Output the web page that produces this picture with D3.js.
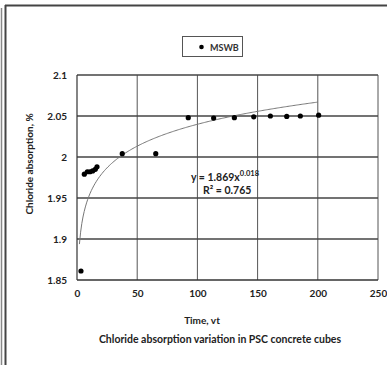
<!DOCTYPE html>
<html><head><meta charset="utf-8">
<script src="https://cdn.jsdelivr.net/npm/d3@7"></script>
<style>body{margin:0;background:#fff;}svg{display:block;}</style>
</head><body>
<script>
const timeVals = [3.3, 6.1, 8.6, 10.8, 13.0, 15.2, 16.6, 37.6, 65.4, 92.4, 113.5, 130.7, 146.8, 160.6, 174.2, 185.5, 200.7];
const absorption = [1.861, 1.979, 1.982, 1.982, 1.983, 1.985, 1.988, 2.004, 2.004, 2.048, 2.0475, 2.048, 2.049, 2.050, 2.0495, 2.050, 2.051];
const xTicks = [0, 50, 100, 150, 200, 250];
const yTicks = [1.85, 1.9, 1.95, 2, 2.05, 2.1];
const trendA = 1.869, trendB = 0.019; // power trendline y = a x^b
const trendRange = [2, 200];
const seriesName = "MSWB";
const eqText = ["y = 1.869x", "0.018"];
const r2Text = "R² = 0.765";

const W = 387, H = 365;
const font = "Lato, 'Open Sans', sans-serif";
const svg = d3.select("body").append("svg").attr("width", W).attr("height", H);

// outer frame
svg.append("line").attr("x1",1.5).attr("x2",1.5).attr("y1",8).attr("y2",H).attr("stroke","#888").attr("stroke-width",1.5);
svg.append("line").attr("x1",5.5).attr("x2",5.5).attr("y1",5).attr("y2",H).attr("stroke","#444").attr("stroke-width",2);
svg.append("line").attr("x1",5).attr("x2",W).attr("y1",5.5).attr("y2",5.5).attr("stroke","#444").attr("stroke-width",2);

const x = d3.scaleLinear().domain([0,250]).range([77,378]);
const y = d3.scaleLinear().domain([1.85,2.1]).range([280,75]);

// vertical grid
svg.append("g").selectAll("line").data(xTicks.slice(1)).join("line")
  .attr("x1",d=>x(d)).attr("x2",d=>x(d)).attr("y1",y(2.1)).attr("y2",y(1.85))
  .attr("stroke","#555").attr("stroke-width",1);
// horizontal grid
svg.append("g").selectAll("line").data(yTicks.slice(1)).join("line")
  .attr("x1",x(0)).attr("x2",x(250)).attr("y1",d=>y(d)).attr("y2",d=>y(d))
  .attr("stroke","#444").attr("stroke-width",1.6);
// axes lines
svg.append("line").attr("x1",x(0)).attr("x2",x(0)).attr("y1",y(2.1)).attr("y2",y(1.85)).attr("stroke","#333").attr("stroke-width",1.2);
svg.append("line").attr("x1",x(0)).attr("x2",x(250)).attr("y1",y(1.85)).attr("y2",y(1.85)).attr("stroke","#333").attr("stroke-width",1.6);

// tick labels
const xAxis = d3.axisBottom(x).tickValues(xTicks).tickSize(0).tickPadding(10).tickFormat(d3.format("d"));
const gx = svg.append("g").attr("transform",`translate(0,${y(1.85)})`).call(xAxis);
gx.select(".domain").remove();
gx.selectAll("text").attr("font-family",font).attr("font-size",10).attr("font-weight","bold").attr("fill","#222");
const yAxis = d3.axisLeft(y).tickValues(yTicks).tickSize(0).tickPadding(10).tickFormat(d=>d3.format("")(+d.toFixed(2)));
const gy = svg.append("g").attr("transform",`translate(${x(0)},0)`).call(yAxis);
gy.select(".domain").remove();
gy.selectAll("text").attr("font-family",font).attr("font-size",10).attr("font-weight","bold").attr("fill","#222");

// trendline
const tx = d3.range(0, 201).map(i => trendRange[0] + (trendRange[1]-trendRange[0])*i/200);
svg.append("path").datum(tx)
  .attr("d", d3.line().x(d=>x(d)).y(d=>y(trendA*Math.pow(d,trendB))))
  .attr("fill","none").attr("stroke","#777").attr("stroke-width",1);

// points
svg.append("g").selectAll("circle").data(timeVals).join("circle")
  .attr("cx",d=>x(d)).attr("cy",(d,i)=>y(absorption[i])).attr("r",2.6).attr("fill","#000");

// equation
const eq = svg.append("text").attr("x",191).attr("y",181).attr("font-family",font).attr("font-size",10.5).attr("font-weight","bold").attr("fill","#222");
eq.append("tspan").text(eqText[0]);
eq.append("tspan").attr("dy",-5).attr("font-size",7.5).text(eqText[1]);
svg.append("text").attr("x",203).attr("y",194).attr("font-family",font).attr("font-size",10.5).attr("font-weight","bold").attr("fill","#222").text(r2Text);

// legend
svg.append("rect").attr("x",182.5).attr("y",36.5).attr("width",60).attr("height",20).attr("fill","#fff").attr("stroke","#555").attr("stroke-width",1);
svg.append("circle").attr("cx",201.5).attr("cy",47).attr("r",2.3).attr("fill","#000");
svg.append("text").attr("x",210).attr("y",50.5).attr("font-family",font).attr("font-size",9).attr("font-weight","bold").attr("fill","#333").text(seriesName);

// axis titles
svg.append("text").attr("x",202).attr("y",323.5).attr("text-anchor","middle").attr("font-family",font).attr("font-size",10).attr("font-weight","bold").attr("fill","#222").text("Time, vt");
svg.append("text").attr("transform","translate(33,164) rotate(-90)").attr("text-anchor","middle").attr("font-family",font).attr("font-size",10).attr("font-weight","bold").attr("fill","#222").text("Chloride absorption, %");
svg.append("text").attr("x",220).attr("y",343).attr("text-anchor","middle").attr("font-family",font).attr("font-size",10.5).attr("font-weight","bold").attr("fill","#222").text("Chloride absorption variation in PSC concrete cubes");
</script>
</body></html>
